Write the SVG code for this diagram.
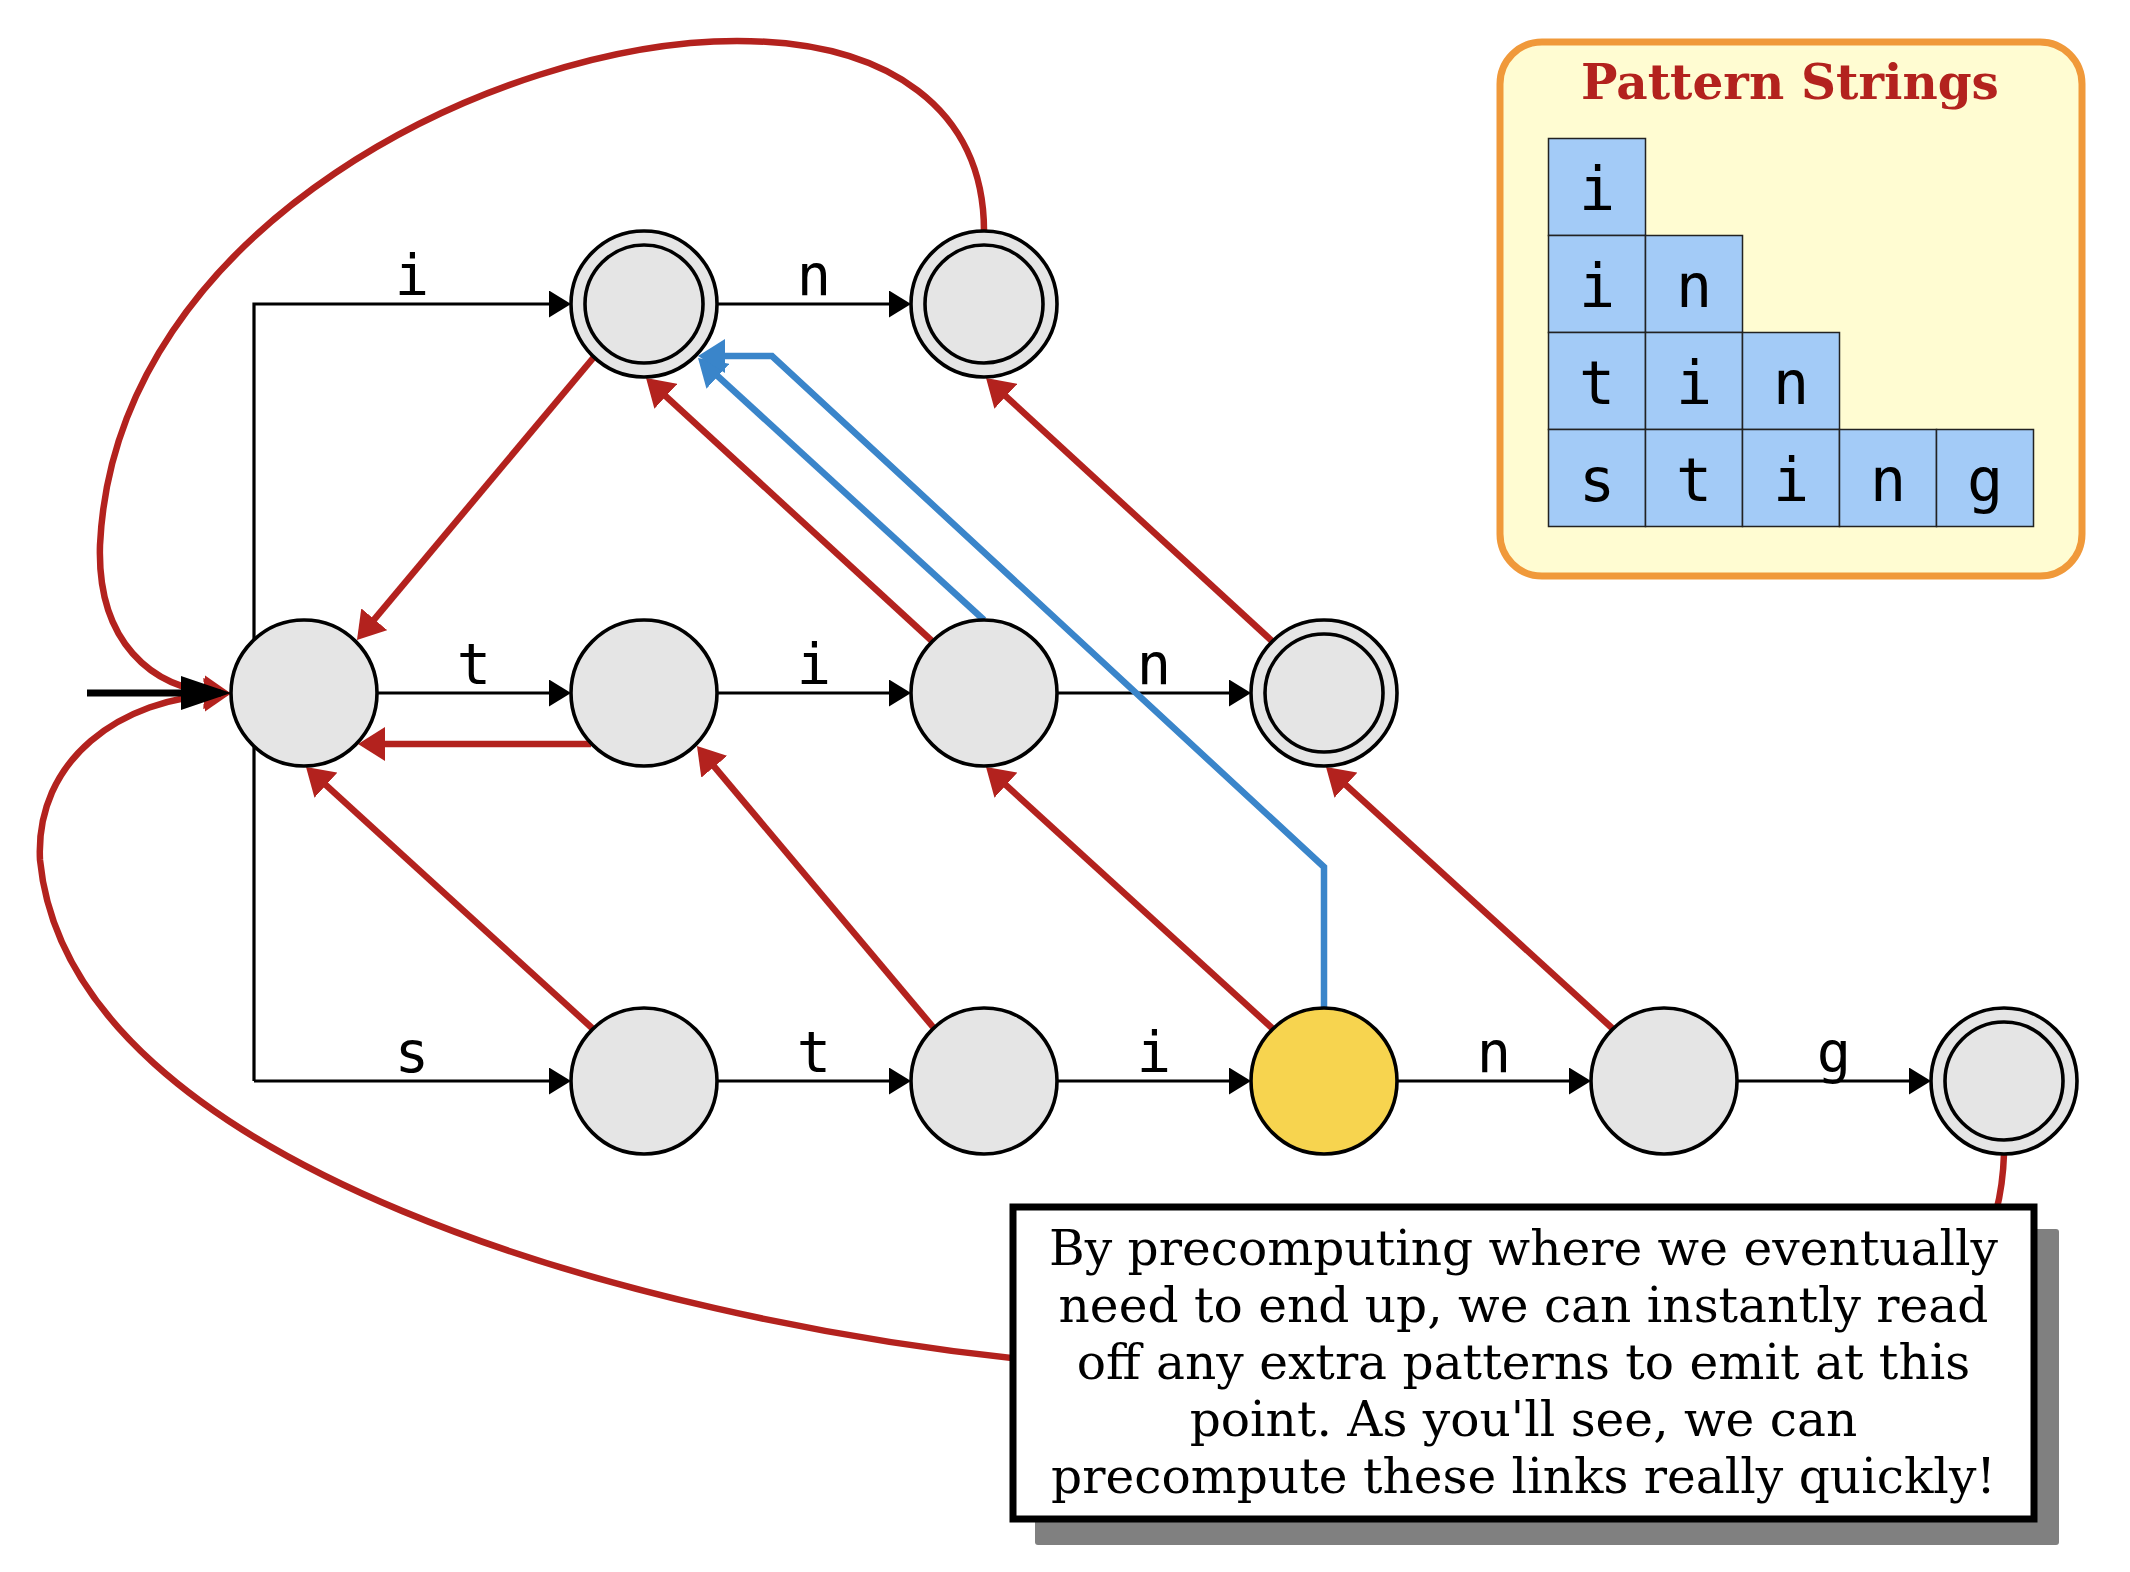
<svg xmlns="http://www.w3.org/2000/svg" width="2130" height="1572" viewBox="0 0 2130 1572">
<style>
.e{stroke:#000;stroke-width:3.2;fill:none}
.r{stroke:#B3221E;stroke-width:6.5;fill:none}
.b{stroke:#3A85CA;stroke-width:6.5;fill:none}
.n{fill:#E5E5E5;stroke:#000;stroke-width:3.6}
.y{fill:#F7D44F;stroke:#000;stroke-width:3.6}
.lbl{font-family:"DejaVu Sans Mono",monospace;font-size:57px;text-anchor:middle;fill:#000}
.cell{fill:#A3CBF7;stroke:#222;stroke-width:1.5}
.cl{font-family:"DejaVu Sans Mono",monospace;font-size:60px;text-anchor:middle;fill:#000}
.note{font-family:"DejaVu Serif",serif;font-size:48.6px;text-anchor:middle;fill:#000}
</style>
<defs>
<marker id="ab" markerUnits="userSpaceOnUse" markerWidth="22" markerHeight="27" refX="14" refY="13.5" orient="auto"><path d="M0,0 L22,13.5 L0,27 z" fill="#000"/></marker>
<marker id="ar" markerUnits="userSpaceOnUse" markerWidth="27" markerHeight="34" refX="17" refY="17" orient="auto"><path d="M0,0 L27,17 L0,34 z" fill="#B3221E"/></marker>
<marker id="abl" markerUnits="userSpaceOnUse" markerWidth="27" markerHeight="34" refX="17" refY="17" orient="auto"><path d="M0,0 L27,17 L0,34 z" fill="#3A85CA"/></marker>
<marker id="ai" markerUnits="userSpaceOnUse" markerWidth="50" markerHeight="34" refX="40" refY="17" orient="auto"><path d="M0,0 L50,17 L0,34 z" fill="#000"/></marker>
</defs>
<rect width="2130" height="1572" fill="#fff"/>

<g id="connectors">
<!-- trie edges -->
<path class="e" d="M254,1081 L254,304 L563,304" marker-end="url(#ab)"/>
<path class="e" d="M717,304 L903,304" marker-end="url(#ab)"/>
<path class="e" d="M377,693 L563,693" marker-end="url(#ab)"/>
<path class="e" d="M717,693 L903,693" marker-end="url(#ab)"/>
<path class="e" d="M1057,693 L1243,693" marker-end="url(#ab)"/>
<path class="e" d="M254,1081 L563,1081" marker-end="url(#ab)"/>
<path class="e" d="M717,1081 L903,1081" marker-end="url(#ab)"/>
<path class="e" d="M1057,1081 L1243,1081" marker-end="url(#ab)"/>
<path class="e" d="M1397,1081 L1583,1081" marker-end="url(#ab)"/>
<path class="e" d="M1737,1081 L1923,1081" marker-end="url(#ab)"/>
<!-- edge labels -->
<text class="lbl" x="412" y="295">i</text>
<text class="lbl" x="814" y="295">n</text>
<text class="lbl" x="474" y="684">t</text>
<text class="lbl" x="814" y="684">i</text>
<text class="lbl" x="1154" y="684">n</text>
<text class="lbl" x="412" y="1072">s</text>
<text class="lbl" x="814" y="1072">t</text>
<text class="lbl" x="1154" y="1072">i</text>
<text class="lbl" x="1494" y="1072">n</text>
<text class="lbl" x="1834" y="1072">g</text>
<!-- suffix links -->
<path class="r" d="M594,357 L363.4,632.3" marker-end="url(#ar)"/>
<path class="r" d="M591,744 L368,744" marker-end="url(#ar)"/>
<path class="r" d="M932,641 L653.4,384.8" marker-end="url(#ar)"/>
<path class="r" d="M1272,641 L993.4,384.8" marker-end="url(#ar)"/>
<path class="r" d="M592,1028 L313.4,773.7" marker-end="url(#ar)"/>
<path class="r" d="M933,1027 L703.4,753.7" marker-end="url(#ar)"/>
<path class="r" d="M1272,1028 L993.4,773.7" marker-end="url(#ar)"/>
<path class="r" d="M1612,1028 L1333.4,773.7" marker-end="url(#ar)"/>
<path class="r" d="M984,231 C984,110 890,41 737,41 C500,41 115,225 100,545 C97,640 150,690 221,693" marker-end="url(#ar)"/>
<path class="r" d="M1020,1359 C650,1320 70,1170 40,860 C35,760 120,698 221,694" marker-end="url(#ar)"/>
<path class="r" d="M2004,1154 Q2003,1185 1996,1212"/>
<!-- output links -->
<path class="b" d="M984,620 L705.4,364.8" marker-end="url(#abl)"/>
<path class="b" d="M1324,1008 L1324,867 L772,356 L708,356" marker-end="url(#abl)"/>
<!-- start arrow -->
<path d="M87,693 L221,693" stroke="#000" stroke-width="7" fill="none" marker-end="url(#ai)"/>
</g>

<g id="n0"><circle class="n" cx="304" cy="693" r="73"/></g>
<g id="n_i"><circle class="n" cx="644" cy="304" r="73"/><circle class="n" cx="644" cy="304" r="59"/></g>
<g id="n_in"><circle class="n" cx="984" cy="304" r="73"/><circle class="n" cx="984" cy="304" r="59"/></g>
<g id="n_t"><circle class="n" cx="644" cy="693" r="73"/></g>
<g id="n_ti"><circle class="n" cx="984" cy="693" r="73"/></g>
<g id="n_tin"><circle class="n" cx="1324" cy="693" r="73"/><circle class="n" cx="1324" cy="693" r="59"/></g>
<g id="n_s"><circle class="n" cx="644" cy="1081" r="73"/></g>
<g id="n_st"><circle class="n" cx="984" cy="1081" r="73"/></g>
<g id="n_sti"><circle class="y" cx="1324" cy="1081" r="73"/></g>
<g id="n_stin"><circle class="n" cx="1664" cy="1081" r="73"/></g>
<g id="n_sting"><circle class="n" cx="2004" cy="1081" r="73"/><circle class="n" cx="2004" cy="1081" r="59"/></g>

<g id="patterns">
<rect x="1500" y="42" width="582" height="534" rx="42" fill="#FFFCD2" stroke="#F0993A" stroke-width="7"/>
<text x="1790" y="99" font-family="DejaVu Serif,serif" font-weight="bold" font-size="48.5" fill="#B3221E" text-anchor="middle">Pattern Strings</text>
<rect class="cell" x="1548.5" y="138.5" width="97" height="97"/>
<rect class="cell" x="1548.5" y="235.5" width="97" height="97"/>
<rect class="cell" x="1645.5" y="235.5" width="97" height="97"/>
<rect class="cell" x="1548.5" y="332.5" width="97" height="97"/>
<rect class="cell" x="1645.5" y="332.5" width="97" height="97"/>
<rect class="cell" x="1742.5" y="332.5" width="97" height="97"/>
<rect class="cell" x="1548.5" y="429.5" width="97" height="97"/>
<rect class="cell" x="1645.5" y="429.5" width="97" height="97"/>
<rect class="cell" x="1742.5" y="429.5" width="97" height="97"/>
<rect class="cell" x="1839.5" y="429.5" width="97" height="97"/>
<rect class="cell" x="1936.5" y="429.5" width="97" height="97"/>
<text class="cl" x="1597" y="210">i</text>
<text class="cl" x="1597" y="307">i</text>
<text class="cl" x="1694" y="307">n</text>
<text class="cl" x="1597" y="404">t</text>
<text class="cl" x="1694" y="404">i</text>
<text class="cl" x="1791" y="404">n</text>
<text class="cl" x="1597" y="501">s</text>
<text class="cl" x="1694" y="501">t</text>
<text class="cl" x="1791" y="501">i</text>
<text class="cl" x="1888" y="501">n</text>
<text class="cl" x="1985" y="501">g</text>
</g>

<g id="callout">
<rect x="1035" y="1229" width="1024" height="316" rx="3" fill="#808080"/>
<rect x="1013" y="1207" width="1021" height="312" fill="#fff" stroke="#000" stroke-width="7"/>
<text class="note" x="1523.5" y="1265">By precomputing where we eventually</text>
<text class="note" x="1523.5" y="1322">need to end up, we can instantly read</text>
<text class="note" x="1523.5" y="1379">off any extra patterns to emit at this</text>
<text class="note" x="1523.5" y="1436">point. As you'll see, we can</text>
<text class="note" x="1523.5" y="1493">precompute these links really quickly!</text>
</g>
</svg>
